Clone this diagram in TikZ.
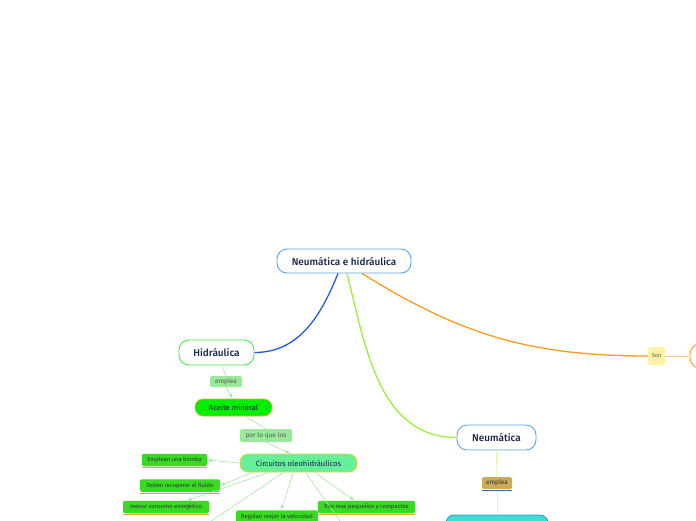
\documentclass[tikz,border=0pt]{standalone}
\usepackage{fontspec}
\setmainfont{Fira Sans}
\newfontfamily\topicfont{Fira Sans Medium}
\usepackage{xcolor}
\usepackage{tikz}
\usetikzlibrary{arrows}

\definecolor{rootline}{HTML}{5DA3DF}
\definecolor{navytext}{HTML}{14244A}
\definecolor{hidline}{HTML}{44EE44}
\definecolor{blueline}{HTML}{2458EC}
\definecolor{limeline}{HTML}{9CF03C}
\definecolor{orangeline}{HTML}{FF9A1A}
\definecolor{paleorange}{HTML}{FFCB80}
\definecolor{sonfill}{HTML}{FFF2A6}
\definecolor{emplgreen}{HTML}{9AE89A}
\definecolor{aceitefill}{HTML}{00EE00}
\definecolor{aceiteline}{HTML}{F0A848}
\definecolor{circfill}{HTML}{66EE99}
\definecolor{circline}{HTML}{E6D63C}
\definecolor{leaffill}{HTML}{36DB22}
\definecolor{leafline}{HTML}{F2A030}
\definecolor{twigline}{HTML}{A2EAA2}
\definecolor{khaki}{HTML}{C9AB58}
\definecolor{khakiline}{HTML}{1C70CC}
\definecolor{palelime}{HTML}{DDFCAA}
\definecolor{cyanfill}{HTML}{3EDDD2}
\definecolor{cyanline}{HTML}{2C92CE}

\tikzset{
  topic/.style={draw, line width=0.9pt, rounded corners=10pt, fill=white, text=navytext, inner sep=0pt, font=\topicfont\fontsize{10}{12}\selectfont},
  subtopic/.style={draw, line width=0.8pt, rounded corners=8pt, text=navytext, inner sep=0pt, font=\fontsize{7.6}{9}\selectfont},
  linklabel/.style={rounded corners=1.5pt, text=black!65, inner sep=0pt, font=\fontsize{6.5}{8}\selectfont},
  leaf/.style={fill=leaffill, rounded corners=2pt, text=black!80, inner sep=0pt, minimum height=12.5, font=\fontsize{5.8}{7}\selectfont},
  branch/.style={line width=1.3pt},
  twig/.style={draw=twigline, line width=0.6pt}
}

\begin{document}
\begin{tikzpicture}[x=1pt,y=-1pt]
		\useasboundingbox (0,0) rectangle (696,520);
		\clip (0,0) rectangle (696,520);
		
		% main topics
		\node[topic, draw=rootline, minimum width=134, minimum height=24] (root) at (344,261) {Neumática e hidráulica};
		\node[topic, draw=hidline, minimum width=75, minimum height=25] (hidraulica) at (216.5,352.5) {Hidráulica};
		\node[topic, draw=rootline, minimum width=79, minimum height=25] (neumatica) at (496.5,437.5) {Neumática};
		\node[topic, draw=orangeline, minimum width=80, minimum height=24] (sonbox) at (730,356) {};
		\node[linklabel, fill=sonfill, minimum width=17, minimum height=18, font=\fontsize{5.5}{7}\selectfont] (son) at (656.5,356) {Son};
		
		% hidraulica side
		\node[linklabel, fill=emplgreen, minimum width=32, minimum height=11] (empleaH) at (226,381.5) {emplea};
		\node[subtopic, fill=aceitefill, draw=aceiteline, minimum width=77, minimum height=17] (aceite) at (233.5,407.5) {Aceite mineral};
		\node[linklabel, fill=emplgreen, minimum width=52, minimum height=13] (porque) at (266,435.5) {por lo que los};
		\node[subtopic, fill=circfill, draw=circline, minimum width=117, minimum height=18] (circuitos) at (298.5,463) {Circuitos oleohidráulicos};
		
		\node[leaf, minimum width=65] (bomba) at (174.5,460) {Emplean una bomba};
		\node[leaf, minimum width=80] (deben) at (180,485.5) {Deben recuperar el fluido};
		\node[leaf, minimum width=86] (menor) at (166,507) {menor consumo energético};
		\node[leaf, minimum width=97] (sonmas) at (366.5,507) {Son mas pequeños y compactos};
		\node[leaf, minimum width=82] (regulan) at (277,516.5) {Regulan mejor la velocidad};
		\coordinate (offleft) at (201,528);
		\coordinate (offright) at (345,528);
		
		% neumatica side
		\node[linklabel, fill=khaki, minimum width=30, minimum height=12, text=black!80] (empleaN) at (497,483) {emplea};
		\node[subtopic, fill=cyanfill, draw=cyanline, minimum width=102, minimum height=24] (cyanbox) at (497,527) {};
		
		% branches
		\draw[branch, blueline] ([xshift=-6pt]root.south) to[out=-112,in=0] (hidraulica.east);
		\draw[branch, limeline] ([xshift=3pt]root.south) to[out=-76,in=180] (neumatica.west);
		\draw[branch, orangeline] ([xshift=18pt]root.south) to[out=-32,in=180] (son.west);
		\draw[line width=1pt, paleorange] (son.east) -- (sonbox.west);
		
		\draw[twig] ([xshift=5pt]hidraulica.south) -- (empleaH.north);
		\draw[twig, -latex] (empleaH.south) -- ([xshift=-1pt]aceite.north);
		\draw[twig] ([xshift=12pt]aceite.south) -- (porque.north);
		\draw[twig, -latex] (porque.south) -- ([xshift=-8pt]circuitos.north);
		
		\draw[twig, -latex] (circuitos.west) -- (bomba.east);
		\draw[twig, -latex] ([xshift=-46pt]circuitos.south) -- (deben.east);
		\draw[twig, -latex] ([xshift=-30pt]circuitos.south) -- ([xshift=21pt]menor.north);
		\draw[twig] ([xshift=-15pt]circuitos.south) -- (offleft);
		\draw[twig, -latex] ([xshift=-5pt]circuitos.south) -- ([xshift=4pt]regulan.north);
		\draw[twig] ([xshift=7pt]circuitos.south) -- (offright);
		\draw[twig, -latex] ([xshift=16pt]circuitos.south) -- ([xshift=-12pt]sonmas.north);
		
		\foreach \n in {bomba,deben,menor,sonmas,regulan}
			\draw[leafline, line width=1pt] ([yshift=-1.5pt]\n.south west) -- ([yshift=-1.5pt]\n.south east);
		
		\draw[palelime, line width=1pt] (neumatica.south) -- (empleaN.north);
		\draw[palelime, line width=1pt] ([yshift=-2pt]empleaN.south) -- (cyanbox.north);
		\draw[khakiline, line width=1pt] ([yshift=-1.5pt]empleaN.south west) -- ([yshift=-1.5pt]empleaN.south east);
	\end{tikzpicture}
\end{document}
